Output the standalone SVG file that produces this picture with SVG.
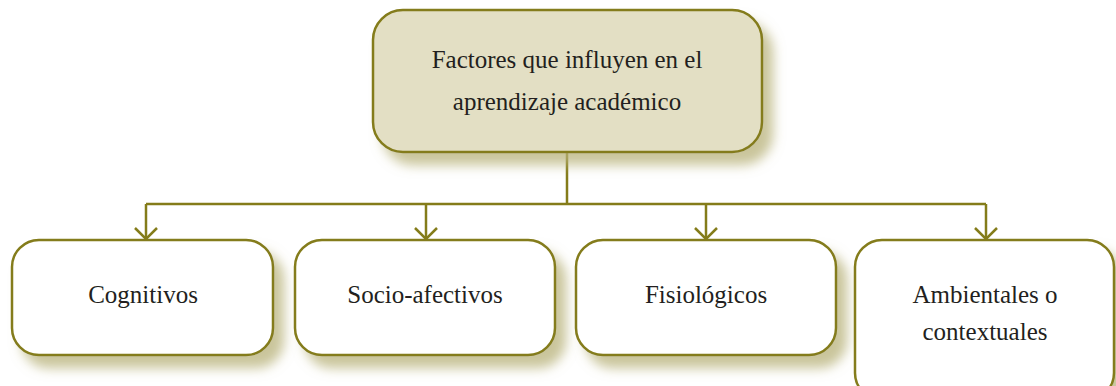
<svg xmlns="http://www.w3.org/2000/svg" width="1116" height="386" viewBox="0 0 1116 386">
<style>
.box{stroke:#847c1a;stroke-width:2.5}
.top{fill:#e3dfc4}
.low{fill:#ffffff}
.lbl{font-size:25px;fill:#231f20;text-anchor:middle}
.conn{fill:none;stroke:#847c1a;stroke-width:2.5}
</style>
<defs>
<filter id="sh" x="-20%" y="-20%" width="140%" height="160%">
<feGaussianBlur in="SourceAlpha" stdDeviation="6"/>
<feOffset dx="10" dy="12" result="b"/>
<feFlood flood-color="#b8b27a" flood-opacity="0.75"/>
<feComposite in2="b" operator="in"/>
<feMerge><feMergeNode/><feMergeNode in="SourceGraphic"/></feMerge>
</filter>
<marker id="arr" markerWidth="24" markerHeight="24" refX="12" refY="12" orient="auto" markerUnits="userSpaceOnUse">
<path d="M1,1 L12,12 L1,23" fill="none" stroke="#847c1a" stroke-width="2.5"/>
</marker>
</defs>
<g id="connectors">
<path class="conn" d="M567,152 V204 M146,204 H986"/>
<path class="conn" d="M146,204 V239" marker-end="url(#arr)"/>
<path class="conn" d="M426,204 V239" marker-end="url(#arr)"/>
<path class="conn" d="M706,204 V239" marker-end="url(#arr)"/>
<path class="conn" d="M986,204 V239" marker-end="url(#arr)"/>
</g>
<g id="node-top">
<rect class="box top" x="373" y="10" width="389" height="142" rx="30" filter="url(#sh)"/>
<text class="lbl" font-family="'Liberation Serif', 'DejaVu Serif', serif" x="567" y="68">Factores que influyen en el</text>
<text class="lbl" font-family="'Liberation Serif', 'DejaVu Serif', serif" x="567" y="110">aprendizaje académico</text>
</g>
<g id="node-cognitivos">
<rect class="box low" x="12" y="240" width="261" height="115" rx="27" filter="url(#sh)"/>
<text class="lbl" font-family="'Liberation Serif', 'DejaVu Serif', serif" x="143" y="303">Cognitivos</text>
</g>
<g id="node-socio">
<rect class="box low" x="295" y="240" width="260" height="115" rx="27" filter="url(#sh)"/>
<text class="lbl" font-family="'Liberation Serif', 'DejaVu Serif', serif" x="425" y="303">Socio-afectivos</text>
</g>
<g id="node-fisio">
<rect class="box low" x="576" y="240" width="260" height="115" rx="27" filter="url(#sh)"/>
<text class="lbl" font-family="'Liberation Serif', 'DejaVu Serif', serif" x="706" y="303">Fisiológicos</text>
</g>
<g id="node-ambientales">
<rect class="box low" x="855" y="240" width="259" height="160" rx="27" filter="url(#sh)"/>
<text class="lbl" font-family="'Liberation Serif', 'DejaVu Serif', serif" x="985" y="303">Ambientales o</text>
<text class="lbl" font-family="'Liberation Serif', 'DejaVu Serif', serif" x="985" y="340">contextuales</text>
</g>
</svg>
